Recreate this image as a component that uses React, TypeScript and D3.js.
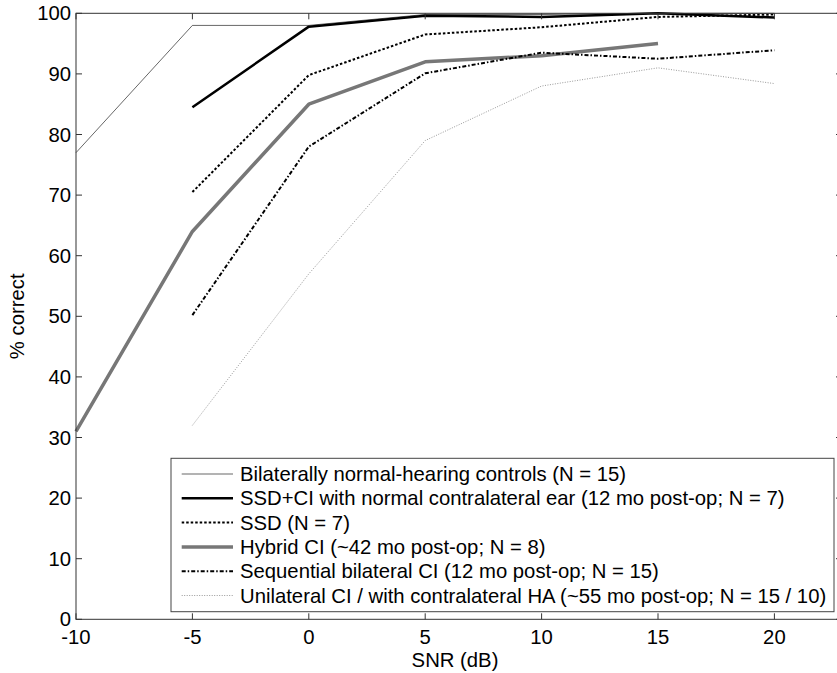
import React from 'react';
import * as d3 from 'd3';

// SNR levels (dB)
const snr = [-10, -5, 0, 5, 10, 15, 20];

// % correct per group (null = not measured)
const normalHearing = [77, 98, 98, 99.8, 99.8, 100, 100];
const ssdCi = [null, 84.5, 97.8, 99.6, 99.4, 100, 99.3];
const ssd = [null, 70.5, 89.8, 96.5, 97.7, 99.4, 99.8];
const hybridCi = [31, 64, 85, 92, 93, 95, null];
const sequentialCi = [null, 50.2, 78, 90.1, 93.5, 92.5, 93.9];
const unilateralCi = [null, 32, 57, 79, 88, 91, 88.4];

const seriesNames = [
  'Bilaterally normal-hearing controls (N = 15)',
  'SSD+CI with normal contralateral ear (12 mo post-op; N = 7)',
  'SSD (N = 7)',
  'Hybrid CI (~42 mo post-op; N = 8)',
  'Sequential bilateral CI (12 mo post-op; N = 15)',
  'Unilateral CI / with contralateral HA (~55 mo post-op; N = 15 / 10)',
];

const xTicks = [-10, -5, 0, 5, 10, 15, 20];
const yTicks = [0, 10, 20, 30, 40, 50, 60, 70, 80, 90, 100];

const STYLES = [
  { stroke: '#000', width: 0.6, dash: undefined },
  { stroke: '#000', width: 2.5, dash: undefined },
  { stroke: '#000', width: 2, dash: '2.5,2' },
  { stroke: '#777', width: 3.5, dash: undefined },
  { stroke: '#000', width: 2, dash: '4,2,1.5,2' },
  { stroke: '#999', width: 1, dash: '1,1.5' },
];

const W = 837;
const H = 673;
const left = 76;
const right = 842;
const top = 13.3;
const bottom = 619.3;
const FONT = 'Arial, "Liberation Sans", Helvetica, sans-serif';

export default function App() {
  const x = d3.scaleLinear().domain([-10, -10 + (right - left) / 23.28]).range([left, right]);
  const y = d3.scaleLinear().domain([0, 100]).range([bottom, top]);

  const allSeries = [normalHearing, ssdCi, ssd, hybridCi, sequentialCi, unilateralCi];

  const line = d3
    .line<[number, number | null]>()
    .defined((d) => d[1] !== null)
    .x((d) => x(d[0]))
    .y((d) => y(d[1] as number));

  const tickLen = 6;
  const axisColor = '#333';

  // legend box
  const lgX0 = 171;
  const lgX1 = 834;
  const lgY0 = 458.3;
  const lgY1 = 611.7;
  const rowY0 = 474;
  const rowStep = 24.3;

  return (
    <svg
      width={W}
      height={H}
      style={{ position: 'absolute', left: 0, top: 0, background: '#fff' }}
      fontFamily={FONT}
    >
      {/* data lines */}
      <g fill="none">
        {allSeries.map((vals, i) => (
          <path
            key={i}
            d={line(snr.map((s, j) => [s, vals[j]]) as [number, number | null][]) || ''}
            stroke={STYLES[i].stroke}
            strokeWidth={STYLES[i].width}
            strokeDasharray={STYLES[i].dash}
            strokeLinejoin="round"
          />
        ))}
      </g>

      {/* axes box */}
      <rect
        x={left}
        y={top}
        width={right - left}
        height={bottom - top}
        fill="none"
        stroke={axisColor}
        strokeWidth={1}
      />

      {/* ticks */}
      <g stroke={axisColor} strokeWidth={1}>
        {xTicks.map((t) => (
          <g key={'x' + t}>
            <line x1={x(t)} x2={x(t)} y1={bottom} y2={bottom - tickLen} />
            <line x1={x(t)} x2={x(t)} y1={top} y2={top + tickLen} />
          </g>
        ))}
        {yTicks.map((t) => (
          <g key={'y' + t}>
            <line x1={left} x2={left + tickLen} y1={y(t)} y2={y(t)} />
            <line x1={right} x2={right - tickLen} y1={y(t)} y2={y(t)} />
          </g>
        ))}
      </g>

      {/* tick labels */}
      <g fontSize={20.3} fill="#000">
        {xTicks.map((t) => (
          <text key={'xl' + t} x={x(t)} y={bottom + 24.5} textAnchor="middle">
            {t}
          </text>
        ))}
        {yTicks.map((t) => (
          <text key={'yl' + t} x={left - 5} y={y(t) + 7} textAnchor="end">
            {t}
          </text>
        ))}
      </g>

      {/* axis titles */}
      <text x={455} y={667} fontSize={20.3} textAnchor="middle">
        SNR (dB)
      </text>
      <text
        transform={`translate(24, ${(top + bottom) / 2}) rotate(-90)`}
        fontSize={20.3}
        textAnchor="middle"
      >
        % correct
      </text>

      {/* legend */}
      <rect
        x={lgX0}
        y={lgY0}
        width={lgX1 - lgX0}
        height={lgY1 - lgY0}
        fill="#fff"
        stroke="#444"
        strokeWidth={1}
      />
      {seriesNames.map((name, i) => {
        const cy = rowY0 + i * rowStep;
        return (
          <g key={name}>
            <line
              x1={181.7}
              x2={233}
              y1={cy}
              y2={cy}
              stroke={STYLES[i].stroke}
              strokeWidth={STYLES[i].width}
              strokeDasharray={STYLES[i].dash}
            />
            <text x={240} y={cy + 7} fontSize={20.3}>
              {name}
            </text>
          </g>
        );
      })}
    </svg>
  );
}
